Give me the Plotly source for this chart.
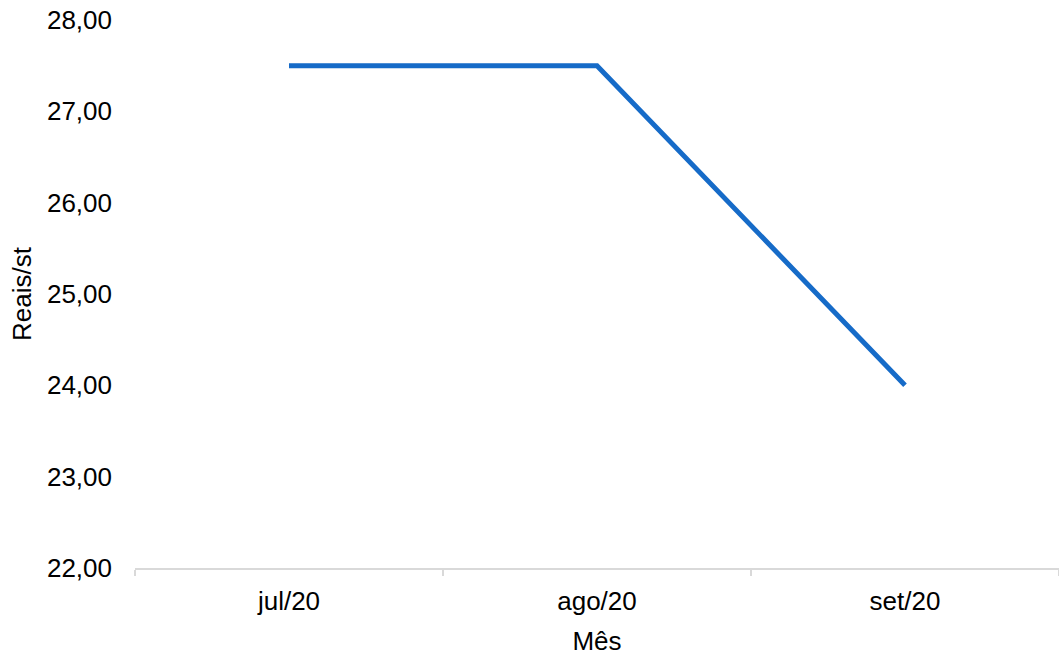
import plotly.graph_objects as go

# Preço mensal (Reais por estéreo)
meses = ["jul/20", "ago/20", "set/20"]
precos = [27.5, 27.5, 24.0]

fig = go.Figure(
    go.Scatter(
        x=meses,
        y=precos,
        mode="lines",
        line=dict(color="#166BC8", width=5),
        hoverinfo="x+y",
    )
)

font_family = "Liberation Sans, Arial, sans-serif"

fig.update_layout(
    width=1059,
    height=656,
    margin=dict(l=135, r=0, t=20, b=88),
    paper_bgcolor="white",
    plot_bgcolor="white",
    separators=",.",
    showlegend=False,
    font=dict(family=font_family, size=26, color="#000000"),
)

fig.update_xaxes(
    type="category",
    range=[-0.5, 2.5],
    showline=True,
    linecolor="#d9d9d9",
    linewidth=1.5,
    ticks="outside",
    tickson="boundaries",
    ticklen=6,
    tickcolor="#d9d9d9",
    tickwidth=1.5,
    showgrid=False,
    zeroline=False,
    tickfont=dict(size=26),
    ticklabelstandoff=9,
    title=dict(text="Mês", font=dict(size=26), standoff=17),
)

fig.update_yaxes(
    range=[22, 28],
    dtick=1,
    tickformat=".2f",
    showline=False,
    showgrid=False,
    zeroline=False,
    ticks="",
    ticklabelstandoff=22,
    tickfont=dict(size=26),
    title=dict(text="Reais/st", font=dict(size=26), standoff=7),
)

fig.write_html("out.html")
